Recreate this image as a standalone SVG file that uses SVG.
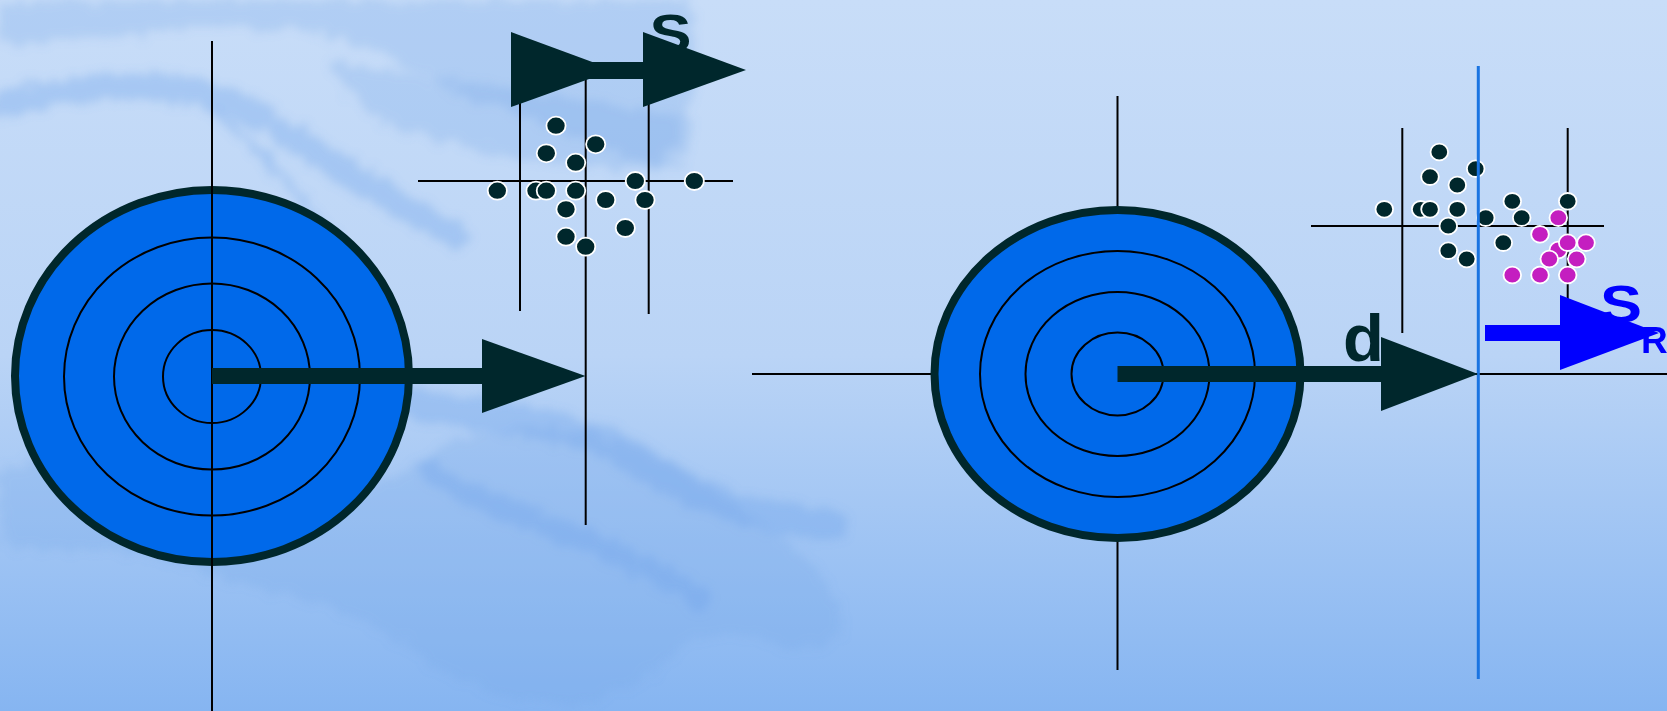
<svg xmlns="http://www.w3.org/2000/svg" width="1667" height="711" viewBox="0 0 1667 711">
<defs>
<linearGradient id="bg" x1="0" y1="0" x2="0" y2="1">
<stop offset="0" stop-color="#c8ddf8"/>
<stop offset="0.5" stop-color="#bad4f6"/>
<stop offset="1" stop-color="#86b5f1"/>
</linearGradient>
<filter id="blur" x="-10%" y="-10%" width="120%" height="120%">
<feTurbulence type="fractalNoise" baseFrequency="0.08" numOctaves="2" seed="3" result="n"/>
<feDisplacementMap in="SourceGraphic" in2="n" scale="22" xChannelSelector="R" yChannelSelector="G" result="d"/>
<feGaussianBlur in="d" stdDeviation="5"/>
</filter>
<style>
.ax{stroke:#000;stroke-width:2;fill:none}
.tgt{fill:#0069ea;stroke:#00272c;stroke-width:8}
.ring{fill:none;stroke:#000;stroke-width:2}
.dk{fill:#00272c}
.dot{fill:#00272c;stroke:#fff;stroke-width:1.8}
.mg{fill:#c41ec0;stroke:#fff;stroke-width:1.8}
.blue{fill:#0000ff}
.lbl{font-family:"Liberation Sans",Arial,sans-serif;font-weight:bold}
.br{fill:none;stroke:#6fa3ea;stroke-linecap:round;opacity:0.35}
.bl{fill:#78aaea;opacity:0.28}
</style>
</defs>
<g id="background">
<rect width="1667" height="711" fill="url(#bg)"/>
<g filter="url(#blur)">
<path class="bl" d="M0,0 L690,0 C700,60 690,130 660,165 C600,150 540,120 470,100 C420,70 360,40 300,30 C200,20 100,40 0,45 Z"/>
<path class="br" stroke-width="26" d="M0,105 C80,85 160,75 235,105 C300,135 370,195 455,235"/>
<path class="br" stroke-width="8" d="M215,110 C260,150 300,195 335,240"/>
<path class="bl" d="M330,60 C430,80 560,90 690,120 C700,150 680,175 640,170 C560,170 470,150 400,130 C360,110 340,90 330,60 Z"/>
<path class="bl" d="M0,470 C80,440 160,450 260,490 C340,520 400,470 460,440 C540,410 620,430 700,480 C760,520 820,560 840,610 C850,650 800,660 760,640 C700,610 660,680 600,700 C520,711 460,690 400,640 C330,600 250,590 170,560 C100,540 40,560 0,540 Z"/>
<path class="br" stroke-width="30" d="M360,390 C450,420 560,410 640,460 C700,500 760,520 830,525"/>
<path class="br" stroke-width="22" d="M430,470 C500,520 600,530 700,600"/>
</g>
</g>
<g id="left-target">
<ellipse class="tgt" cx="212" cy="376" rx="197" ry="186"/>
<ellipse class="ring" cx="212" cy="376.5" rx="148" ry="139"/>
<ellipse class="ring" cx="212" cy="376.5" rx="98" ry="93"/>
<ellipse class="ring" cx="212" cy="376.5" rx="49" ry="46.5"/>
<line class="ax" x1="212" y1="41" x2="212" y2="711"/>
</g>
<g id="left-scatter">
<line class="ax" x1="585.7" y1="79" x2="585.7" y2="525"/>
<line class="ax" x1="520" y1="79" x2="520" y2="311"/>
<line class="ax" x1="648.7" y1="79" x2="648.7" y2="314"/>
<line class="ax" x1="418" y1="181" x2="733" y2="181"/>
<ellipse class="dot" cx="556" cy="125.7" rx="9.6" ry="9"/>
<ellipse class="dot" cx="595.7" cy="144.3" rx="9.6" ry="9"/>
<ellipse class="dot" cx="546.3" cy="153.3" rx="9.6" ry="9"/>
<ellipse class="dot" cx="575.7" cy="162.7" rx="9.6" ry="9"/>
<ellipse class="dot" cx="635.3" cy="181" rx="9.6" ry="9"/>
<ellipse class="dot" cx="694.3" cy="181" rx="9.6" ry="9"/>
<ellipse class="dot" cx="497.3" cy="190.7" rx="9.6" ry="9"/>
<ellipse class="dot" cx="536" cy="190.7" rx="9.6" ry="9"/>
<ellipse class="dot" cx="546.3" cy="190.7" rx="9.6" ry="9"/>
<ellipse class="dot" cx="575.7" cy="190.7" rx="9.6" ry="9"/>
<ellipse class="dot" cx="605.7" cy="200" rx="9.6" ry="9"/>
<ellipse class="dot" cx="645" cy="200" rx="9.6" ry="9"/>
<ellipse class="dot" cx="566" cy="209.3" rx="9.6" ry="9"/>
<ellipse class="dot" cx="625.3" cy="228" rx="9.6" ry="9"/>
<ellipse class="dot" cx="566" cy="236.7" rx="9.6" ry="9"/>
<ellipse class="dot" cx="585.7" cy="246.7" rx="9.6" ry="9"/>
<text class="lbl" x="649.5" y="51.5" font-size="53" fill="#00272c" textLength="42" lengthAdjust="spacingAndGlyphs">S</text>
</g>
<g id="right-target">
<line class="ax" x1="1117.5" y1="96" x2="1117.5" y2="670"/>
<line class="ax" x1="752" y1="374" x2="1667" y2="374"/>
<ellipse class="tgt" cx="1117.5" cy="374" rx="183" ry="164"/>
<ellipse class="ring" cx="1117.5" cy="374" rx="137.5" ry="123"/>
<ellipse class="ring" cx="1117.5" cy="374" rx="92" ry="82"/>
<ellipse class="ring" cx="1117.5" cy="374" rx="46" ry="41.5"/>
</g>
<g id="right-scatter">
<line class="ax" x1="1402.3" y1="128" x2="1402.3" y2="333"/>
<line class="ax" x1="1567.7" y1="128" x2="1567.7" y2="333"/>
<line class="ax" x1="1311" y1="226" x2="1604" y2="226"/>
<ellipse class="dot" cx="1439.3" cy="152" rx="8.8" ry="8.3"/>
<ellipse class="dot" cx="1475.7" cy="168.7" rx="8.8" ry="8.3"/>
<ellipse class="dot" cx="1430" cy="176.7" rx="8.8" ry="8.3"/>
<ellipse class="dot" cx="1457.3" cy="185" rx="8.8" ry="8.3"/>
<ellipse class="dot" cx="1512.3" cy="201.3" rx="8.8" ry="8.3"/>
<ellipse class="dot" cx="1567.7" cy="201.3" rx="8.8" ry="8.3"/>
<ellipse class="dot" cx="1384.3" cy="209.3" rx="8.8" ry="8.3"/>
<ellipse class="dot" cx="1420.7" cy="209.3" rx="8.8" ry="8.3"/>
<ellipse class="dot" cx="1430" cy="209.3" rx="8.8" ry="8.3"/>
<ellipse class="dot" cx="1457.3" cy="209.3" rx="8.8" ry="8.3"/>
<ellipse class="dot" cx="1485.7" cy="217.7" rx="8.8" ry="8.3"/>
<ellipse class="dot" cx="1521.7" cy="217.7" rx="8.8" ry="8.3"/>
<ellipse class="dot" cx="1448.3" cy="226" rx="8.8" ry="8.3"/>
<ellipse class="dot" cx="1503.3" cy="242.7" rx="8.8" ry="8.3"/>
<ellipse class="dot" cx="1448.3" cy="250.7" rx="8.8" ry="8.3"/>
<ellipse class="dot" cx="1466.7" cy="259" rx="8.8" ry="8.3"/>
<ellipse class="mg" cx="1558.3" cy="217.7" rx="8.8" ry="8.3"/>
<ellipse class="mg" cx="1540" cy="234.3" rx="8.8" ry="8.3"/>
<ellipse class="mg" cx="1558.3" cy="250" rx="8.8" ry="8.3"/>
<ellipse class="mg" cx="1567.7" cy="242.7" rx="8.8" ry="8.3"/>
<ellipse class="mg" cx="1586" cy="242.7" rx="8.8" ry="8.3"/>
<ellipse class="mg" cx="1549.3" cy="259" rx="8.8" ry="8.3"/>
<ellipse class="mg" cx="1576.7" cy="259" rx="8.8" ry="8.3"/>
<ellipse class="mg" cx="1512.3" cy="275" rx="8.8" ry="8.3"/>
<ellipse class="mg" cx="1540" cy="275" rx="8.8" ry="8.3"/>
<ellipse class="mg" cx="1567.7" cy="275" rx="8.8" ry="8.3"/>
<line x1="1478.3" y1="66" x2="1478.3" y2="679" stroke="#1a74e2" stroke-width="3"/>
</g>
<g id="connectors">
<rect class="dk" x="212" y="368" width="271" height="16"/>
<polygon class="dk" points="482,339 585.5,376 482,413"/>
<polygon class="dk" points="511,32 614,70 511,107"/>
<rect class="dk" x="560" y="62" width="84" height="17"/>
<polygon class="dk" points="643,32 746,70 643,107"/>
<rect class="dk" x="1117.5" y="366" width="264" height="16"/>
<polygon class="dk" points="1381,337 1478,374 1381,411"/>
<rect class="blue" x="1485" y="325" width="76" height="16"/>
<polygon class="blue" points="1560,295 1659,333 1560,370"/>
</g>
<g id="labels">
<text class="lbl" x="1343" y="361" font-size="67" fill="#00272c">d</text>
<text class="lbl" x="1600" y="322" font-size="52" fill="#0000ff" textLength="42" lengthAdjust="spacingAndGlyphs">S</text>
<text class="lbl" x="1641" y="353" font-size="37" fill="#0000ff">R</text>
</g>
</svg>
